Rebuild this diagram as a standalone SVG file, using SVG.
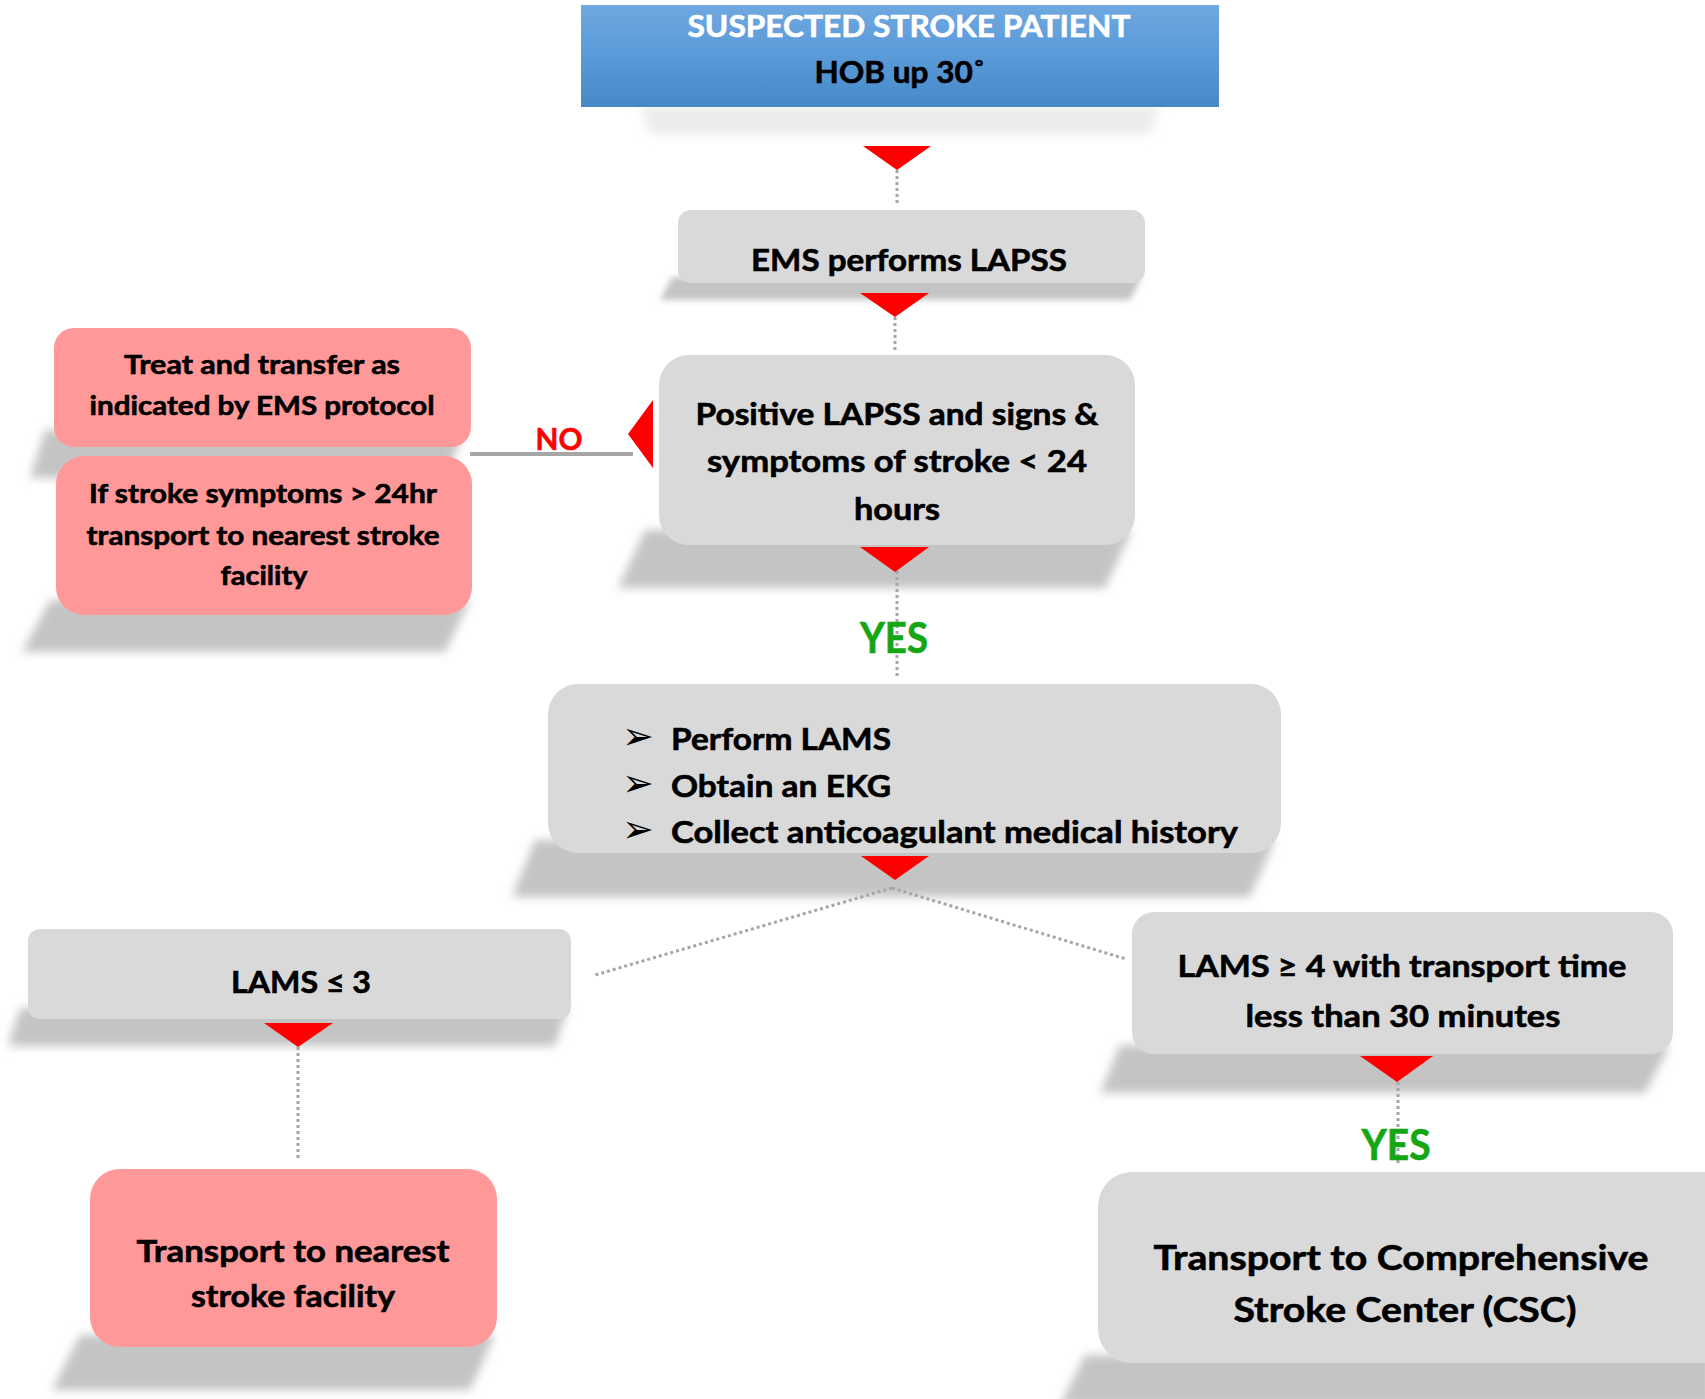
<svg xmlns="http://www.w3.org/2000/svg" width="1705" height="1399" viewBox="0 0 1705 1399">
<defs>
<linearGradient id="blue" x1="0" y1="0" x2="0" y2="1">
<stop offset="0" stop-color="#6fa8e0"/>
<stop offset="0.5" stop-color="#599ad9"/>
<stop offset="1" stop-color="#4788c7"/>
</linearGradient>
<filter id="blur" x="-10%" y="-50%" width="120%" height="200%"><feGaussianBlur stdDeviation="5"/></filter>
<filter id="blur2" x="-10%" y="-50%" width="120%" height="200%"><feGaussianBlur stdDeviation="3"/></filter>
</defs>
<style>
.t{font-family:Lato,"Noto Sans","Liberation Sans",sans-serif;font-weight:bold;fill:#000;stroke:#000;stroke-width:0.6px;text-anchor:middle}
.w{fill:#fff;stroke:#fff}
.s{text-anchor:start}
.gray{fill:#d9d9d9}
.pink{fill:#ff9999}
.sh{fill:#c4c4c4;filter:url(#blur)}
.dot{stroke:#a6a6a6;stroke-width:3;stroke-dasharray:3 3;fill:none}
.tri{fill:#ff0000}
.no{fill:#ff0000;stroke:#ff0000}
.yes{fill:#14a614;stroke:#14a614}
.bul{font-family:"DejaVu Sans",sans-serif;font-size:38px;fill:#000}
</style>
<rect width="1705" height="1399" fill="#fff"/>

<g id="shadows">
<polygon points="640,106 1160,106 1150,134 650,134" fill="#ececec" filter="url(#blur)"/>
<polygon points="672,277 1142,277 1130,300 660,300" class="sh" style="filter:url(#blur2)"/>
<polygon points="645,530 1132,530 1105,588 618,588" class="sh"/>
<polygon points="45,430 465,430 445,478 30,478" class="sh"/>
<polygon points="50,600 470,600 445,652 22,652" class="sh"/>
<polygon points="535,840 1275,840 1250,897 512,897" class="sh"/>
<polygon points="20,1008 568,1008 555,1046 8,1046" class="sh"/>
<polygon points="80,1335 495,1335 470,1390 52,1390" class="sh"/>
<polygon points="1120,1045 1670,1045 1645,1093 1100,1093" class="sh"/>
<polygon points="1085,1355 1712,1355 1712,1405 1060,1405" class="sh"/>
</g>

<g id="connectors">
<line class="dot" x1="897" y1="170" x2="897" y2="203"/>
<line class="dot" x1="895" y1="317" x2="895" y2="352"/>
<line class="dot" x1="897" y1="571" x2="897" y2="678"/>
<line class="dot" x1="892" y1="888" x2="595" y2="975"/>
<line class="dot" x1="892" y1="888" x2="1126" y2="959"/>
<line class="dot" x1="298" y1="1047" x2="298" y2="1161"/>
<line class="dot" x1="1398" y1="1082" x2="1398" y2="1164"/>
<line x1="470" y1="454" x2="633" y2="454" stroke="#a6a6a6" stroke-width="4"/>
<polygon class="tri" points="863,146 931,146 897,170"/>
<polygon class="tri" points="860,293 929,293 895,317"/>
<polygon class="tri" points="860,547 929,547 895,572"/>
<polygon class="tri" points="861,856 929,856 895,880"/>
<polygon class="tri" points="264,1023 333,1023 298,1047"/>
<polygon class="tri" points="1360,1056 1433,1056 1397,1082"/>
<polygon class="tri" points="653,400 653,468 628,434"/>
<text class="t no" x="559" y="450" font-size="31" textLength="47" lengthAdjust="spacingAndGlyphs">NO</text>
<text class="t yes" x="894" y="653" font-size="42" textLength="68" lengthAdjust="spacingAndGlyphs">YES</text>
<text class="t yes" x="1396" y="1160" font-size="42" textLength="69" lengthAdjust="spacingAndGlyphs">YES</text>
</g>

<g id="node-start">
<rect x="581" y="5" width="638" height="102" fill="url(#blue)"/>
<text class="t w" x="909" y="37" font-size="31" textLength="443" lengthAdjust="spacingAndGlyphs">SUSPECTED STROKE PATIENT</text>
<text class="t" x="900" y="83" font-size="31" textLength="171" lengthAdjust="spacingAndGlyphs">HOB up 30˚</text>
</g>

<g id="node-ems">
<rect class="gray" x="678" y="210" width="467" height="73" rx="13"/>
<text class="t" x="909" y="271" font-size="31" textLength="316" lengthAdjust="spacingAndGlyphs">EMS performs LAPSS</text>
</g>

<g id="node-positive">
<rect class="gray" x="659" y="355" width="476" height="190" rx="30"/>
<text class="t" x="897" y="425" font-size="30" textLength="403" lengthAdjust="spacingAndGlyphs">Positive LAPSS and signs &amp;</text>
<text class="t" x="897" y="472" font-size="30" textLength="380" lengthAdjust="spacingAndGlyphs">symptoms of stroke &lt; 24</text>
<text class="t" x="897" y="520" font-size="30" textLength="86" lengthAdjust="spacingAndGlyphs">hours</text>
</g>

<g id="node-treat">
<rect class="pink" x="54" y="328" width="417" height="119" rx="20"/>
<text class="t" x="262" y="374" font-size="26.5" textLength="276" lengthAdjust="spacingAndGlyphs">Treat and transfer as</text>
<text class="t" x="262" y="415" font-size="26.5" textLength="345" lengthAdjust="spacingAndGlyphs">indicated by EMS protocol</text>
</g>

<g id="node-over24">
<rect class="pink" x="56" y="456" width="416" height="159" rx="28"/>
<text class="t" x="263" y="503" font-size="26.5" textLength="348" lengthAdjust="spacingAndGlyphs">If stroke symptoms &gt; 24hr</text>
<text class="t" x="263" y="545" font-size="26.5" textLength="353" lengthAdjust="spacingAndGlyphs">transport to nearest stroke</text>
<text class="t" x="264" y="585" font-size="26.5" textLength="87" lengthAdjust="spacingAndGlyphs">facility</text>
</g>

<g id="node-lams">
<rect class="gray" x="548" y="684" width="733" height="169" rx="30"/>
<text class="bul" x="622" y="749">➢</text>
<text class="bul" x="622" y="796">➢</text>
<text class="bul" x="622" y="842">➢</text>
<text class="t s" x="671" y="750" font-size="31" textLength="220" lengthAdjust="spacingAndGlyphs">Perform LAMS</text>
<text class="t s" x="671" y="797" font-size="31" textLength="220" lengthAdjust="spacingAndGlyphs">Obtain an EKG</text>
<text class="t s" x="671" y="843" font-size="31" textLength="567" lengthAdjust="spacingAndGlyphs">Collect anticoagulant medical history</text>
</g>

<g id="node-lams-low">
<rect class="gray" x="28" y="929" width="543" height="90" rx="12"/>
<text class="t" x="301" y="993" font-size="31" textLength="140" lengthAdjust="spacingAndGlyphs">LAMS ≤ 3</text>
</g>

<g id="node-nearest">
<rect class="pink" x="90" y="1169" width="407" height="178" rx="30"/>
<text class="t" x="293" y="1262" font-size="31" textLength="313" lengthAdjust="spacingAndGlyphs">Transport to nearest</text>
<text class="t" x="293" y="1307" font-size="31" textLength="204" lengthAdjust="spacingAndGlyphs">stroke facility</text>
</g>

<g id="node-lams-high">
<rect class="gray" x="1132" y="912" width="541" height="142" rx="22"/>
<text class="t" x="1402" y="977" font-size="31" textLength="449" lengthAdjust="spacingAndGlyphs">LAMS ≥ 4 with transport time</text>
<text class="t" x="1403" y="1027" font-size="31" textLength="315" lengthAdjust="spacingAndGlyphs">less than 30 minutes</text>
</g>

<g id="node-csc">
<rect class="gray" x="1098" y="1172" width="640" height="191" rx="34"/>
<text class="t" x="1401" y="1270" font-size="35" textLength="495" lengthAdjust="spacingAndGlyphs">Transport to Comprehensive</text>
<text class="t" x="1405" y="1322" font-size="35" textLength="343" lengthAdjust="spacingAndGlyphs">Stroke Center (CSC)</text>
</g>
</svg>
